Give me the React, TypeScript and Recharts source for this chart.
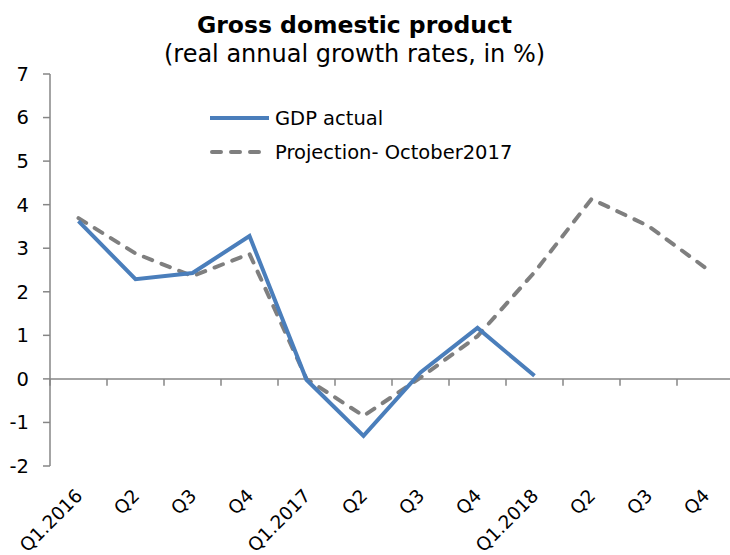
import React from "react";
import {
  LineChart,
  Line,
  XAxis,
  YAxis,
  ReferenceLine,
} from "recharts";

const quarterKeys = [
  "2016Q1", "2016Q2", "2016Q3", "2016Q4",
  "2017Q1", "2017Q2", "2017Q3", "2017Q4",
  "2018Q1", "2018Q2", "2018Q3", "2018Q4",
];
const quarterLabels = [
  "Q1.2016", "Q2", "Q3", "Q4",
  "Q1.2017", "Q2", "Q3", "Q4",
  "Q1.2018", "Q2", "Q3", "Q4",
];
const gdpActual = [3.62, 2.29, 2.43, 3.28, -0.02, -1.31, 0.15, 1.17, 0.07, null, null, null];
const projection = [3.69, 2.88, 2.36, 2.87, 0.0, -0.85, 0.03, 0.98, 2.45, 4.13, 3.51, 2.55];
const yTicks = [-2, -1, 0, 1, 2, 3, 4, 5, 6, 7];

const FONT = "'DejaVu Sans', Verdana, sans-serif";
const BLUE = "#4a7ebb";
const GREY = "#7f7f7f";
const AXIS = "#868686";

const data = quarterKeys.map((key, i) => ({
  key,
  actual: gdpActual[i],
  projection: projection[i],
}));

const QuarterTick = (props: any) => {
  const { x, y, payload } = props;
  return (
    <g transform={`translate(${x + 5},${y + 31})`}>
      <text
        x={0}
        y={0}
        textAnchor="end"
        transform="rotate(-45)"
        fontSize={18.5}
        fontFamily={FONT}
        fill="#000"
      >
        {quarterLabels[payload.index]}
      </text>
    </g>
  );
};

// legend drawn by hand, sits inside the plot
const LegendBox = () => (
  <svg
    width={330}
    height={60}
    style={{ position: "absolute", left: 205, top: 105, overflow: "visible" }}
  >
    <line x1={5} y1={13} x2={64} y2={13} stroke={BLUE} strokeWidth={4} />
    <text x={70} y={20} fontSize={19.5} fontFamily={FONT} fill="#000">
      GDP actual
    </text>
    <line
      x1={7}
      y1={47}
      x2={60}
      y2={47}
      stroke={GREY}
      strokeWidth={4}
      strokeDasharray="9 10"
      strokeLinecap="round"
    />
    <text x={70} y={54} fontSize={19.5} fontFamily={FONT} fill="#000">
      Projection- October2017
    </text>
  </svg>
);

export default function App() {
  return (
    <div
      style={{
        position: "absolute",
        left: 0,
        top: 0,
        width: 730,
        height: 555,
        overflow: "hidden",
        background: "#fff",
      }}
    >
      <div
        style={{
          position: "absolute",
          left: 0,
          width: 709,
          top: 11,
          textAlign: "center",
          fontFamily: FONT,
          fontWeight: "bold",
          fontSize: 23.5,
          color: "#000",
        }}
      >
        Gross domestic product
      </div>
      <div
        style={{
          position: "absolute",
          left: 0,
          width: 709,
          top: 40,
          textAlign: "center",
          fontFamily: FONT,
          fontSize: 24,
          color: "#000",
        }}
      >
        (real annual growth rates, in %)
      </div>
      <LineChart
        width={740}
        height={555}
        data={data}
        margin={{ top: 74, right: 6, bottom: 0, left: 0 }}
      >
        <XAxis
          dataKey="key"
          scale="band"
          axisLine={false}
          tickLine={false}
          tickSize={0}
          tickMargin={0}
          height={89}
          interval={0}
          tick={<QuarterTick />}
        />
        <YAxis
          type="number"
          domain={[-2, 7]}
          ticks={yTicks}
          interval={0}
          width={50}
          tickSize={7}
          tickMargin={14}
          axisLine={{ stroke: AXIS, strokeWidth: 1.5 }}
          tickLine={{ stroke: AXIS, strokeWidth: 1.5 }}
          tick={{ fontSize: 19.5, fontFamily: FONT, fill: "#000" }}
        />
        <ReferenceLine y={0} stroke={AXIS} strokeWidth={1.5} />
        {quarterKeys.map((k) => (
          <ReferenceLine
            key={k}
            position="start"
            segment={[
              { x: k, y: 0 },
              { x: k, y: -0.16 },
            ]}
            stroke={AXIS}
            strokeWidth={1.5}
          />
        ))}
        <Line
          type="linear"
          dataKey="projection"
          stroke={GREY}
          strokeWidth={4}
          strokeDasharray="9 10"
          strokeLinecap="round"
          dot={false}
          activeDot={false}
          isAnimationActive={false}
        />
        <Line
          type="linear"
          dataKey="actual"
          stroke={BLUE}
          strokeWidth={4}
          dot={false}
          activeDot={false}
          connectNulls={false}
          isAnimationActive={false}
        />
      </LineChart>
      <LegendBox />
    </div>
  );
}
